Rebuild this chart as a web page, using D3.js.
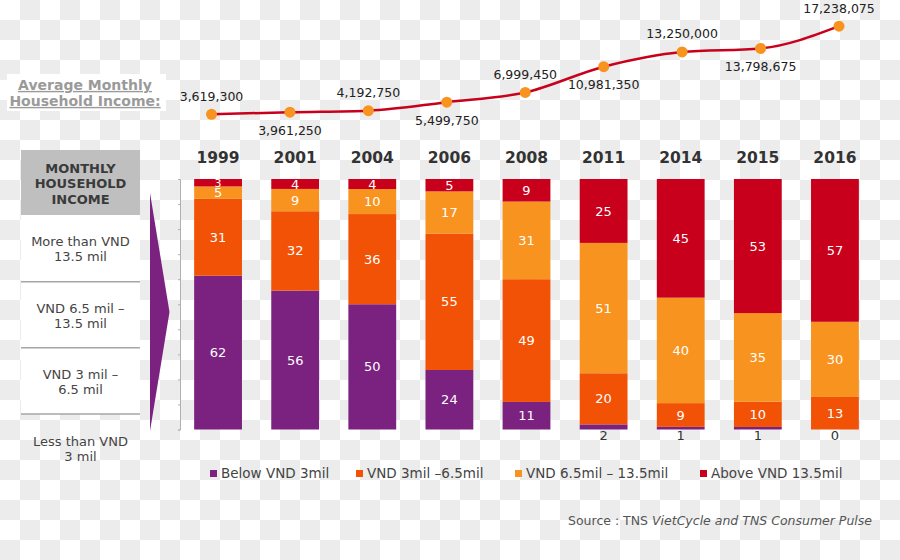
<!DOCTYPE html>
<html>
<head>
<meta charset="utf-8">
<script src="https://cdn.jsdelivr.net/npm/d3@7"></script>
<style>
  body { margin: 0; background: #fff; }
  svg { display: block; font-family: "DejaVu Sans", Verdana, sans-serif; }
</style>
</head>
<body>
<div id="chart"></div>
<script>

// Household income data (TNS)
const years = ["1999", "2001", "2004", "2006", "2008", "2011", "2014", "2015", "2016"];
const avgIncome = [3619300, 3961250, 4192750, 5499750, 6999450, 10981350, 13250000, 13798675, 17238075];

const below3 = [62, 56, 50, 24, 11, 2, 1, 1, 0];
const from3to65 = [31, 32, 36, 55, 49, 20, 9, 10, 13];
const from65to135 = [5, 9, 10, 17, 31, 51, 40, 35, 30];
const above135 = [3, 4, 4, 5, 9, 25, 45, 53, 57];

const seriesNames = ["Below VND 3mil", "VND 3mil \u20136.5mil", "VND 6.5mil \u2013 13.5mil", "Above VND 13.5mil"];
const seriesColours = ["#7b2180", "#f15206", "#f7931e", "#c8001c"];

const tableHeader = ["MONTHLY", "HOUSEHOLD", "INCOME"];
const tableRows = [
    ["More than VND", "13.5 mil"],
    ["VND 6.5 mil \u2013", "13.5 mil"],
    ["VND 3 mil \u2013", "6.5 mil"],
    ["Less than VND", "3 mil"]
];

const width = 900;
const height = 560;

const svg = d3.select("#chart").append("svg")
    .attr("width", width)
    .attr("height", height);

// Checkerboard backdrop (transparent png look)
const defs = svg.append("defs");
const pat = defs.append("pattern")
    .attr("id", "checker")
    .attr("width", 40).attr("height", 40)
    .attr("patternUnits", "userSpaceOnUse");
pat.append("rect").attr("width", 40).attr("height", 40).attr("fill", "#ffffff");
pat.append("rect").attr("x", 20).attr("y", 0).attr("width", 20).attr("height", 20).attr("fill", "#ececec");
pat.append("rect").attr("x", 0).attr("y", 20).attr("width", 20).attr("height", 20).attr("fill", "#ececec");

svg.append("rect")
    .attr("width", width).attr("height", height)
    .attr("fill", "url(#checker)");

// Rows of the data table
const rows = years.map((y, i) => ({
    year: y,
    below3: below3[i],
    from3to65: from3to65[i],
    from65to135: from65to135[i],
    above135: above135[i]
}));
const keys = ["below3", "from3to65", "from65to135", "above135"];

// Scales
const x = d3.scaleBand()
    .domain(years)
    .range([179.5, 873.5])
    .paddingInner(0.38)
    .paddingOuter(0.19);

const y = d3.scaleLinear()
    .domain([0, 1])
    .range([429.5, 179]);

const colour = d3.scaleOrdinal().domain(keys).range(seriesColours);

const xLine = d3.scalePoint()
    .domain(years)
    .range([211.5, 839]);

const yLine = d3.scaleLinear()
    .domain([0, 18000000])
    .range([137.8, 21.2]);

// Left hand table
const table = svg.append("g");

table.append("rect")
    .attr("x", 21).attr("y", 150)
    .attr("width", 119).attr("height", 65)
    .attr("fill", "#bfbfbf");

table.selectAll(".hdr")
    .data(tableHeader)
    .enter().append("text")
    .attr("x", 80.5)
    .attr("y", (d, i) => 168 + i * 15.5)
    .attr("dy", "0.35em")
    .attr("text-anchor", "middle")
    .style("font-size", "13px")
    .style("font-weight", "bold")
    .style("fill", "#3a3a3a")
    .text(d => d);

table.append("rect")
    .attr("x", 21).attr("y", 215)
    .attr("width", 119).attr("height", 199)
    .attr("fill", "#ffffff");

[281.7, 347.7, 414].forEach(function(ly) {
    table.append("line")
        .attr("x1", 21).attr("x2", 140)
        .attr("y1", ly).attr("y2", ly)
        .attr("stroke", "#a6a6a6")
        .attr("stroke-width", 1.5);
});

tableRows.forEach(function(lines, r) {
    const cy = 241.7 + r * 66.5;
    lines.forEach(function(t, j) {
        table.append("text")
            .attr("x", 80.5)
            .attr("y", cy + j * 15)
            .attr("dy", "0.35em")
            .attr("text-anchor", "middle")
            .style("font-size", "13px")
            .style("fill", "#444")
            .text(t);
    });
});

// Purple arrow
svg.append("path")
    .attr("d", "M150,193 L169.5,312 L150,431 Z")
    .attr("fill", "#7b2180");

// Label for the line
const lbl = svg.append("g");
lbl.append("rect")
    .attr("x", 7).attr("y", 74)
    .attr("width", 159).attr("height", 37)
    .attr("fill", "#ffffff");
["Average Monthly", "Household Income:"].forEach(function(t, i) {
    lbl.append("text")
        .attr("x", 85)
        .attr("y", 85 + i * 16)
        .attr("dy", "0.35em")
        .attr("text-anchor", "middle")
        .style("font-size", "14px")
        .style("font-weight", "bold")
        .style("fill", "#9a9a9a")
        .style("text-decoration", "underline")
        .text(t);
});

// Vertical axis with tiny ticks
svg.append("g")
    .attr("transform", "translate(180,0)")
    .call(d3.axisLeft(y).ticks(10).tickSize(2).tickFormat(""))
    .call(g => g.select(".domain").attr("stroke", "#b0b0b0"))
    .call(g => g.selectAll(".tick line").attr("stroke", "#b0b0b0"));

// Year headings
svg.selectAll(".year")
    .data(years)
    .enter().append("text")
    .attr("class", "year")
    .attr("x", d => x(d) + x.bandwidth() / 2)
    .attr("y", 158)
    .attr("dy", "0.35em")
    .attr("text-anchor", "middle")
    .style("font-size", "15.5px")
    .style("font-weight", "bold")
    .style("fill", "#333")
    .text(d => d);

// Stacked 100% bars
const stacked = d3.stack().keys(keys).offset(d3.stackOffsetExpand)(rows);

const layer = svg.selectAll(".layer")
    .data(stacked)
    .enter().append("g")
    .attr("class", "layer")
    .attr("fill", d => colour(d.key));

layer.selectAll("rect")
    .data(d => d)
    .enter().append("rect")
    .attr("x", d => x(d.data.year))
    .attr("y", d => y(d[1]))
    .attr("width", x.bandwidth())
    .attr("height", d => y(d[0]) - y(d[1]));

// Segment labels, the tiny ones go under the bar
layer.each(function(s) {
    d3.select(this).selectAll("text")
        .data(s)
        .enter().append("text")
        .attr("x", d => x(d.data.year) + x.bandwidth() / 2)
        .attr("y", function(d) {
            const v = d.data[s.key];
            return v < 3 ? 435 : (y(d[0]) + y(d[1])) / 2;
        })
        .attr("dy", "0.35em")
        .attr("text-anchor", "middle")
        .style("font-size", d => d.data[s.key] === 3 ? "11px" : "13px")
        .style("fill", d => d.data[s.key] < 3 ? "#333" : "#fff")
        .text(d => d.data[s.key]);
});

// Income line
const linePts = years.map((yr, i) => [xLine(yr), yLine(avgIncome[i])]);

svg.append("path")
    .datum(linePts)
    .attr("d", d3.line().curve(d3.curveMonotoneX))
    .attr("fill", "none")
    .attr("stroke", "#c8001c")
    .attr("stroke-width", 2.5);

svg.selectAll(".dot")
    .data(linePts)
    .enter().append("circle")
    .attr("cx", d => d[0])
    .attr("cy", d => d[1])
    .attr("r", 5.5)
    .attr("fill", "#f7931e");

svg.selectAll(".inc")
    .data(avgIncome)
    .enter().append("text")
    .attr("x", (d, i) => xLine(years[i]))
    .attr("y", (d, i) => yLine(d) + (i % 2 === 0 ? -18 : 18))
    .attr("dy", "0.35em")
    .attr("text-anchor", "middle")
    .style("font-size", "12.5px")
    .style("fill", "#222")
    .text(d => d3.format(",")(d));

// Legend
const legend = svg.append("g");
const legendX = [210, 356, 515, 700];
seriesNames.forEach(function(name, i) {
    legend.append("rect")
        .attr("x", legendX[i]).attr("y", 470)
        .attr("width", 7).attr("height", 7)
        .attr("fill", seriesColours[i]);
    legend.append("text")
        .attr("x", legendX[i] + 11)
        .attr("y", 473.5)
        .attr("dy", "0.35em")
        .style("font-size", "13.5px")
        .style("fill", "#444")
        .text(name);
});

// Source
const src = svg.append("text")
    .attr("x", 872)
    .attr("y", 521)
    .attr("dy", "0.35em")
    .attr("text-anchor", "end")
    .style("font-size", "12.5px")
    .style("fill", "#555");
src.append("tspan").text("Source : TNS ");
src.append("tspan").style("font-style", "italic").text("VietCycle and TNS Consumer Pulse");

</script>
</body>
</html>
